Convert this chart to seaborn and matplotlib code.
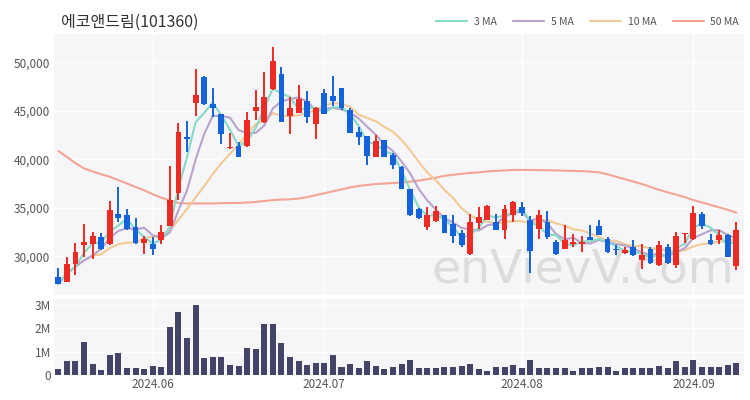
import numpy as np
import pandas as pd
import matplotlib
matplotlib.use("Agg")
import matplotlib.pyplot as plt
from matplotlib.ticker import FuncFormatter
from matplotlib.lines import Line2D
import seaborn as sns

title = "에코앤드림(101360)"

opens = [27865, 27350, 29173, 31136, 31240, 32000, 31240, 34400, 34300, 33030,
         31410, 31240, 31720, 33100, 36540, 42330, 45773, 48425, 45670, 44670,
         41120, 41365, 41365, 44980, 43880, 47220, 48800, 44460, 44810, 45950,
         43600, 46800, 46530, 47320, 45100, 42850, 42400, 40260, 41950, 40430,
         39230, 36890, 34860, 33030, 33650, 34300, 33380, 32410, 30280, 33440,
         33790, 33550, 32690, 34240, 35100, 33720, 32860, 33550, 31480, 30790,
         31240, 31310, 32000, 33100, 31830, 30790, 30340, 30960, 29590, 30790,
         29070, 30960, 29070, 32270, 31830, 34410, 31720, 31720, 32240, 28970]
closes = [27176, 29242, 30413, 31481, 32100, 30790, 34750, 34000, 32860, 31410,
          31760, 30790, 32510, 35850, 42780, 42050, 46635, 45670, 45260, 42600,
          41300, 40190, 44050, 45430, 46390, 50080, 43880, 45260, 46220, 44330,
          45330, 44670, 46030, 45300, 42700, 42300, 40380, 41930, 40220, 39400,
          36920, 34240, 33960, 34240, 34680, 32450, 32100, 31140, 33550, 34060,
          35170, 32690, 34920, 35620, 34480, 30550, 34240, 32000, 30280, 31650,
          31480, 31480, 31720, 32170, 30450, 30620, 30620, 30100, 30170, 29310,
          31140, 29310, 32070, 32450, 34480, 33100, 31310, 32170, 29930, 32760]
highs = [28795, 29930, 31378, 33306, 32514, 32410, 35650, 37100, 34920, 34000,
         32070, 32000, 33200, 39330, 43710, 43950, 49290, 48600, 47320, 44670,
         42670, 41810, 44910, 47150, 48980, 51560, 49490, 46390, 47600, 46980,
         45430, 47250, 48560, 47320, 45260, 43330, 42400, 42500, 41990, 40600,
         39300, 36890, 35000, 35100, 35170, 34300, 34300, 32760, 34410, 35100,
         35270, 34410, 35270, 35680, 35620, 34180, 34750, 34630, 31650, 33200,
         32340, 32070, 33200, 33720, 32000, 31140, 30960, 31650, 31240, 30960,
         31580, 31310, 32510, 32450, 35170, 34580, 32340, 32690, 32340, 33550]
lows = [27176, 27350, 28037, 29930, 29760, 30690, 31140, 33550, 32690, 31310,
        30280, 30100, 31240, 33100, 35790, 40710, 44465, 45600, 44400, 41540,
        41020, 40190, 41300, 44050, 43710, 47150, 43880, 42570, 44740, 43710,
        42090, 44670, 45500, 45050, 42670, 41430, 39400, 40260, 40220, 38990,
        36920, 34170, 33890, 32760, 33550, 32450, 31410, 30960, 30100, 32860,
        33720, 32690, 31830, 33550, 34130, 28280, 31830, 31780, 30100, 30790,
        30960, 30450, 31720, 32170, 30380, 30100, 30200, 30000, 28690, 29170,
        28970, 29170, 28830, 31380, 31720, 32860, 31140, 31310, 29930, 28620]
volumes_m = [0.26, 0.59, 0.59, 1.40, 0.50, 0.24, 0.87, 0.94, 0.30, 0.30,
             0.26, 0.39, 0.33, 2.07, 2.71, 1.59, 3.01, 0.73, 0.79, 0.79,
             0.43, 0.40, 1.17, 1.10, 2.17, 2.19, 1.37, 0.76, 0.61, 0.43,
             0.51, 0.54, 0.87, 0.34, 0.46, 0.29, 0.60, 0.40, 0.26, 0.36,
             0.47, 0.64, 0.30, 0.30, 0.30, 0.36, 0.36, 0.40, 0.47, 0.26,
             0.16, 0.36, 0.36, 0.44, 0.30, 0.67, 0.30, 0.30, 0.30, 0.30,
             0.19, 0.30, 0.30, 0.36, 0.33, 0.19, 0.30, 0.30, 0.30, 0.30,
             0.40, 0.30, 0.59, 0.33, 0.67, 0.36, 0.36, 0.36, 0.44, 0.51]
ma50 = [40850, 40250, 39600, 39050, 38750, 38450, 38200, 37850, 37500, 37150,
        36800, 36400, 36050, 35750, 35500, 35450, 35450, 35450, 35450, 35480,
        35500, 35500, 35550, 35600, 35700, 35800, 35850, 35880, 35950, 36100,
        36300, 36500, 36700, 36900, 37100, 37250, 37350, 37450, 37500, 37550,
        37600, 37700, 37800, 37950, 38100, 38300, 38400, 38500, 38600, 38650,
        38750, 38800, 38850, 38900, 38900, 38900, 38880, 38870, 38850, 38820,
        38800, 38780, 38720, 38650, 38450, 38200, 37950, 37700, 37450, 37150,
        36850, 36600, 36350, 36100, 35800, 35550, 35300, 35050, 34800, 34500]
month_labels = ["2024.06", "2024.07", "2024.08", "2024.09"]
month_first_idx = [11, 31, 54, 74]

UP = "#ee2a24"
DOWN = "#1463db"
VOL = "#434468"
C3, C5, C10, C50 = "#86d8c8", "#b8a3cc", "#f3c995", "#f3a594"
BG = "#f6f6f8"
TXT = "#555555"

df = pd.DataFrame({"i": np.arange(len(opens)), "open": opens, "close": closes,
                   "high": highs, "low": lows, "vol": np.array(volumes_m) * 1e6,
                   "ma50": ma50})
df["ma3"] = df["close"].rolling(3, min_periods=1).mean()
df["ma5"] = df["close"].rolling(5, min_periods=1).mean()
df["ma10"] = df["close"].rolling(10, min_periods=1).mean()
df["up"] = df["close"] >= df["open"]
df["col"] = np.where(df["up"], UP, DOWN)

sns.set_theme(style="white")
plt.rcParams["font.family"] = ["Noto Sans CJK KR", "DejaVu Sans"]

fig = plt.figure(figsize=(7.5, 4), dpi=100)
ax = fig.add_axes([0.072, 0.262, 0.92, 0.653])
axv = fig.add_axes([0.072, 0.062, 0.92, 0.19], sharex=ax)

for a in (ax, axv):
    a.set_facecolor(BG)
    for s in a.spines.values():
        s.set_visible(False)
    a.grid(True, color="white", lw=1.0)
    a.set_axisbelow(True)

# MA lines
for col, c in (("ma50", C50), ("ma10", C10), ("ma5", C5), ("ma3", C3)):
    sns.lineplot(data=df, x="i", y=col, ax=ax, color=c, lw=1.5, zorder=2, legend=False)

# candles
ax.vlines(df["i"], df["low"], df["high"], colors=df["col"], lw=1.4, zorder=3)
body_bottom = np.minimum(df["open"], df["close"])
body_h = np.maximum(np.abs(df["close"] - df["open"]), 120)
ax.bar(df["i"], body_h, bottom=body_bottom, width=0.68, color=df["col"], zorder=4, linewidth=0)

ax.text(0.985, 0.01, "enVievV.com", transform=ax.transAxes, ha="right", va="bottom",
        fontsize=34, color="#dcdcdc", zorder=1, family=["DejaVu Sans"])

ax.set_ylim(26000, 52900)
ax.set_yticks([30000, 35000, 40000, 45000, 50000])
ax.yaxis.set_major_formatter(FuncFormatter(lambda v, p: f"{int(v):,}"))
ax.set_xlim(-0.5, 79.9)
ax.set_xticks(month_first_idx)
ax.tick_params(axis="x", labelbottom=False, length=0)
ax.tick_params(axis="y", labelsize=8.5, colors=TXT, length=0, pad=3)
ax.set_xlabel("")
ax.set_ylabel("")

# volume
sns.barplot(data=df, x="i", y="vol", ax=axv, color=VOL, native_scale=True,
            width=0.7, saturation=1, linewidth=0, zorder=3)
axv.set_ylim(0, 3.25e6)
axv.set_yticks([0, 1e6, 2e6, 3e6])
axv.yaxis.set_major_formatter(FuncFormatter(lambda v, p: "0" if v == 0 else f"{int(v/1e6)}M"))
axv.set_xlim(-0.5, 79.9)
axv.set_xticks(month_first_idx)
axv.set_xticklabels(month_labels)
axv.tick_params(axis="both", labelsize=8.5, colors=TXT, length=0, pad=2)
axv.set_xlabel("")
axv.set_ylabel("")

fig.text(0.082, 0.945, title, fontsize=11.5, color="#333333", va="center", ha="left")

handles = [Line2D([0], [0], color=c, lw=1.5) for c in (C3, C5, C10, C50)]
fig.legend(handles, ["3 MA", "5 MA", "10 MA", "50 MA"], loc="center right",
           bbox_to_anchor=(0.998, 0.945), ncol=4, frameon=False, fontsize=7.5,
           handlelength=3.0, columnspacing=1.6, handletextpad=0.6, labelcolor=TXT)

fig.savefig("out.png", dpi=100)
